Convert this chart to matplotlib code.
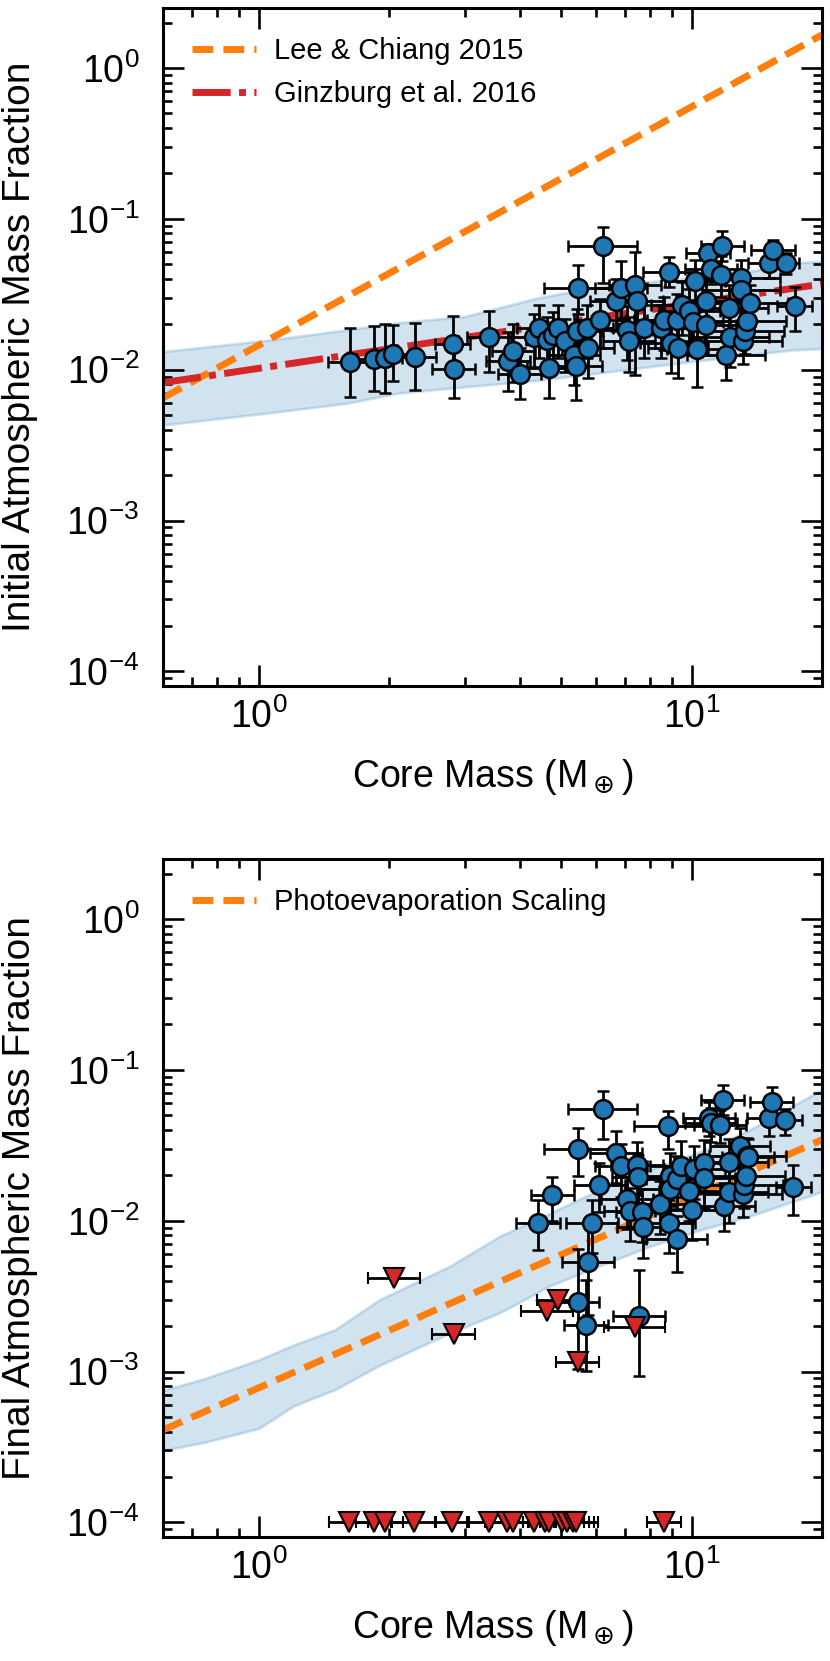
import numpy as np
import matplotlib
matplotlib.use('Agg')
import matplotlib.pyplot as plt
from matplotlib.ticker import LogLocator, NullFormatter

plt.rcParams['font.family'] = ['Liberation Sans', 'DejaVu Sans']
plt.rcParams['mathtext.fontset'] = 'dejavusans'

#
#  top panel: initial atmospheric mass fraction of every planet
#
m_init = [1.62, 1.84, 1.95, 2.04, 2.29, 2.80, 2.82, 3.40, 3.76, 3.87,
          4.00, 4.32, 4.43, 4.64, 4.67, 4.78, 4.92, 5.09, 5.34, 5.40,
          5.44, 5.47, 5.73, 5.77, 6.14, 6.22, 6.67, 6.86, 7.07, 7.15,
          7.41, 7.49, 7.77, 8.49, 8.63, 8.88, 8.94, 9.26, 9.30, 9.48,
          9.88, 10.05, 10.17, 10.29, 10.78, 10.78, 10.90, 11.08, 11.70, 11.77,
          11.98, 12.20, 12.25, 13.0, 13.0, 13.15, 13.3, 13.4, 13.6, 15.1,
          15.4, 16.5, 17.3]
f_init = [0.0112, 0.0118, 0.0119, 0.0128, 0.0122, 0.0149, 0.0101, 0.0165, 0.0114, 0.0132,
          0.0094, 0.0165, 0.0189, 0.0158, 0.0103, 0.0171, 0.0189, 0.0154, 0.0126, 0.0105,
          0.0180, 0.0348, 0.0189, 0.0139, 0.0212, 0.0657, 0.0284, 0.0348, 0.0184, 0.0154,
          0.0366, 0.0284, 0.0189, 0.0189, 0.0215, 0.0442, 0.0150, 0.0215, 0.0139, 0.0270,
          0.0244, 0.0206, 0.0385, 0.0137, 0.0284, 0.0199, 0.0593, 0.0465, 0.0427, 0.0657,
          0.0126, 0.0256, 0.0165, 0.0405, 0.0339, 0.0154, 0.0180, 0.0209, 0.0277, 0.0509,
          0.0618, 0.0509, 0.0266]
# errors in dex
dm_init = [0.05, 0.04, 0.04, 0.04, 0.05, 0.04, 0.05, 0.05, 0.05, 0.05,
           0.05, 0.05, 0.05, 0.05, 0.05, 0.05, 0.06, 0.06, 0.06, 0.06,
           0.06, 0.08, 0.06, 0.06, 0.06, 0.08, 0.06, 0.06, 0.06, 0.06,
           0.06, 0.06, 0.06, 0.07, 0.07, 0.06, 0.07, 0.07, 0.07, 0.07,
           0.07, 0.07, 0.07, 0.07, 0.07, 0.07, 0.05, 0.06, 0.06, 0.05,
           0.09, 0.09, 0.09, 0.09, 0.09, 0.09, 0.09, 0.09, 0.09, 0.05,
           0.05, 0.03, 0.04]
df_init_lo = [0.23, 0.21, 0.23, 0.18, 0.22, 0.18, 0.19, 0.23, 0.20, 0.20,
              0.17, 0.20, 0.20, 0.20, 0.20, 0.20, 0.20, 0.20, 0.20, 0.22,
              0.20, 0.17, 0.20, 0.20, 0.18, 0.24, 0.20, 0.20, 0.20, 0.20,
              0.60, 0.20, 0.20, 0.20, 0.20, 0.10, 0.20, 0.22, 0.20, 0.20,
              0.20, 0.20, 0.20, 0.25, 0.20, 0.20, 0.10, 0.10, 0.15, 0.10,
              0.17, 0.20, 0.20, 0.15, 0.15, 0.15, 0.15, 0.15, 0.15, 0.10,
              0.10, 0.07, 0.17]
df_init_hi = [0.23, 0.22, 0.23, 0.19, 0.22, 0.18, 0.15, 0.17, 0.19, 0.18,
              0.17, 0.15, 0.15, 0.15, 0.15, 0.15, 0.15, 0.15, 0.15, 0.15,
              0.15, 0.15, 0.15, 0.15, 0.14, 0.13, 0.15, 0.18, 0.16, 0.16,
              0.22, 0.15, 0.15, 0.15, 0.15, 0.10, 0.15, 0.17, 0.15, 0.15,
              0.15, 0.15, 0.14, 0.15, 0.15, 0.15, 0.06, 0.10, 0.12, 0.10,
              0.15, 0.15, 0.15, 0.12, 0.12, 0.12, 0.12, 0.12, 0.12, 0.10,
              0.07, 0.07, 0.12]

#
#  bottom panel: final atmospheric mass fraction
#
m_final = [4.41, 4.76, 5.45, 5.47, 5.70, 5.75, 5.89, 6.12, 6.23, 6.68,
           6.86, 7.08, 7.18, 7.49, 7.53, 7.57, 7.66, 7.73, 8.45, 8.83,
           8.86, 8.91, 8.91, 9.23, 9.23, 9.43, 9.87, 10.0, 10.14, 10.7,
           10.7, 10.94, 11.08, 11.62, 11.79, 11.9, 12.22, 12.22, 12.93, 13.16,
           13.2, 13.35, 13.45, 13.5, 15.09, 15.29, 16.43, 17.18]
f_final = [0.00965, 0.0148, 0.00291, 0.0298, 0.00202, 0.0053, 0.00965, 0.0172, 0.0549, 0.028,
           0.0229, 0.0139, 0.0116, 0.0234, 0.0194, 0.00235, 0.0115, 0.00903, 0.013, 0.0425,
           0.00965, 0.0199, 0.0162, 0.00756, 0.0189, 0.0229, 0.0158, 0.0118, 0.022, 0.0243,
           0.0192, 0.0483, 0.0441, 0.043, 0.0632, 0.0126, 0.0246, 0.0154, 0.0314, 0.015,
           0.0172, 0.0199, 0.0267, 0.0263, 0.0477, 0.0614, 0.0467, 0.0166]
dm_final = [0.05, 0.05, 0.05, 0.08, 0.05, 0.06, 0.06, 0.06, 0.08, 0.06,
            0.06, 0.06, 0.06, 0.06, 0.06, 0.06, 0.06, 0.06, 0.06, 0.08,
            0.06, 0.07, 0.07, 0.07, 0.07, 0.07, 0.07, 0.07, 0.07, 0.07,
            0.07, 0.06, 0.06, 0.06, 0.05, 0.07, 0.09, 0.09, 0.07, 0.09,
            0.09, 0.09, 0.09, 0.06, 0.05, 0.05, 0.04, 0.04]
df_final_lo = [0.18, 0.17, 0.45, 0.18, 0.30, 0.35, 0.20, 0.18, 0.20, 0.20,
               0.20, 0.20, 0.20, 0.20, 0.20, 0.40, 0.20, 0.20, 0.20, 0.15,
               0.20, 0.20, 0.20, 0.22, 0.20, 0.20, 0.20, 0.20, 0.20, 0.20,
               0.20, 0.12, 0.12, 0.12, 0.10, 0.17, 0.20, 0.20, 0.15, 0.15,
               0.15, 0.15, 0.15, 0.15, 0.12, 0.10, 0.10, 0.18]
df_final_hi = [0.15, 0.12, 0.35, 0.14, 0.30, 0.25, 0.15, 0.15, 0.12, 0.15,
               0.15, 0.15, 0.15, 0.15, 0.15, 0.30, 0.15, 0.15, 0.15, 0.10,
               0.15, 0.15, 0.15, 0.15, 0.15, 0.17, 0.15, 0.15, 0.15, 0.15,
               0.15, 0.10, 0.10, 0.10, 0.10, 0.15, 0.15, 0.15, 0.12, 0.12,
               0.12, 0.12, 0.12, 0.12, 0.10, 0.10, 0.07, 0.15]

# upper limits (atmosphere mostly stripped)
m_lim = [2.05, 2.82, 4.64, 4.92, 5.45, 7.38]
f_lim = [0.0042, 0.00178, 0.00253, 0.0030, 0.00115, 0.00197]
dm_lim = [0.06, 0.05, 0.06, 0.05, 0.05, 0.07]

# fully stripped planets, sitting on the floor of the plot
m_lost = [1.61, 1.84, 1.96, 2.28, 2.79, 3.40, 3.74, 3.87, 4.32, 4.58,
          4.69, 5.01, 5.15, 5.31, 5.40, 8.63]
f_lost = [1e-4] * len(m_lost)
dm_lost = [0.045, 0.04, 0.04, 0.05, 0.04, 0.05, 0.05, 0.05, 0.05, 0.05,
           0.05, 0.05, 0.05, 0.05, 0.05, 0.04]

#
#  model curves and 1-sigma bands
#
lee_mass = [0.6, 20.0]
lee_f = [0.0065, 1.66]
ginz_mass = [0.6, 20.0]
ginz_f = [0.0082, 0.0370]
photo_mass = [0.6, 20.0]
photo_f = [0.00041, 0.0344]

band1_mass = [0.6, 1.07, 1.6, 2.1, 3.0, 4.4, 6.1, 8.5, 12.5, 17.0, 20.0]
band1_hi = [0.0132, 0.0158, 0.0184, 0.0205, 0.0226, 0.0299, 0.0356, 0.0390, 0.0426, 0.0510, 0.0523]
band1_lo = [0.0043, 0.0052, 0.0060, 0.0070, 0.0077, 0.0085, 0.0095, 0.0107, 0.0122, 0.0135, 0.0138]

band2_mass = [0.6, 0.75, 1.0, 1.2, 1.5, 1.9, 2.76, 3.6, 4.7, 6.1, 8.0, 10.5, 13.6, 20.0]
band2_hi = [0.00075, 0.00090, 0.0012, 0.0015, 0.0019, 0.0030, 0.0050, 0.0079, 0.0112,
            0.0160, 0.0218, 0.0288, 0.0400, 0.0740]
band2_lo = [0.00030, 0.00034, 0.00042, 0.00059, 0.00076, 0.0011, 0.0018, 0.00245, 0.0037,
            0.0050, 0.00675, 0.0087, 0.0107, 0.0156]

tick_family = ['Liberation Sans Narrow', 'Liberation Sans', 'DejaVu Sans']


def dex_err(vals, lo, hi=None):
    v = np.array(vals)
    lo = np.array(lo)
    hi = lo if hi is None else np.array(hi)
    return [v * (1 - 10**-lo), v * (10**hi - 1)]


def style_axes(ax):
    ax.set_xscale('log')
    ax.set_yscale('log')
    ax.set_xlim(0.6, 20)
    ax.set_ylim(8e-5, 2.5)
    ax.yaxis.set_major_locator(LogLocator(base=10, numticks=10))
    ax.yaxis.set_minor_locator(LogLocator(base=10, subs=np.arange(2, 10), numticks=20))
    ax.xaxis.set_minor_formatter(NullFormatter())
    ax.yaxis.set_minor_formatter(NullFormatter())
    ax.tick_params(which='both', direction='in', top=True, right=True,
                   width=1.9, labelsize=27)
    ax.tick_params(which='major', length=15)
    ax.tick_params(which='minor', length=6.5)
    ax.tick_params(axis='x', which='major', pad=9)
    ax.tick_params(axis='y', which='major', pad=17)
    for lab in ax.get_xticklabels() + ax.get_yticklabels():
        lab.set_family(tick_family)
    for sp in ax.spines.values():
        sp.set_linewidth(2.2)
    ax.set_xlabel(r'Core Mass (M$_\oplus$)', fontsize=27)
    ax.xaxis.set_label_coords(0.5, -0.105)


ebkw = dict(ecolor='k', elinewidth=2, capsize=4, capthick=2, zorder=3)

fig = plt.figure(figsize=(8.3, 16.61), dpi=100)
ax1 = fig.add_axes([0.1964, 0.5870, 0.7940, 0.4082])
ax2 = fig.add_axes([0.1964, 0.07465, 0.7940, 0.4082])

# ---- top panel
ax1.fill_between(band1_mass, band1_lo, band1_hi, color='tab:blue', alpha=0.2,
                 lw=2, zorder=1)
ax1.plot(lee_mass, lee_f, color='tab:orange', lw=5, dashes=(3.0, 1.45),
         label='Lee & Chiang 2015', zorder=2)
ax1.plot(ginz_mass, ginz_f, color='tab:red', lw=5, dashes=(5.5, 1.2, 1.0, 1.2),
         label='Ginzburg et al. 2016', zorder=2)
ax1.errorbar(m_init, f_init, xerr=dex_err(m_init, dm_init),
             yerr=dex_err(f_init, df_init_lo, df_init_hi),
             fmt='o', ms=13.5, mfc='tab:blue', mec='k', mew=1.8, **ebkw)
style_axes(ax1)
ax1.set_ylabel('Initial Atmospheric Mass Fraction', fontsize=28)
ax1.yaxis.set_label_coords(-0.19, 0.5)
ax1.legend(loc='upper left', frameon=False, fontsize=21, handlelength=2.2,
           handletextpad=0.6, labelspacing=0.5, borderaxespad=0.6)

# ---- bottom panel
ax2.fill_between(band2_mass, band2_lo, band2_hi, color='tab:blue', alpha=0.2,
                 lw=2, zorder=1)
ax2.plot(photo_mass, photo_f, color='tab:orange', lw=5, dashes=(3.0, 1.45),
         label='Photoevaporation Scaling', zorder=2)
ax2.errorbar(m_final, f_final, xerr=dex_err(m_final, dm_final),
             yerr=dex_err(f_final, df_final_lo, df_final_hi),
             fmt='o', ms=13.5, mfc='tab:blue', mec='k', mew=1.8, **ebkw)
ax2.errorbar(m_lim, f_lim, xerr=dex_err(m_lim, dm_lim),
             fmt='v', ms=14, mfc='tab:red', mec='k', mew=1.5, **ebkw)
ax2.errorbar(m_lost, f_lost, xerr=dex_err(m_lost, dm_lost),
             fmt='v', ms=14, mfc='tab:red', mec='k', mew=1.5, **ebkw)
style_axes(ax2)
ax2.set_ylabel('Final Atmospheric Mass Fraction', fontsize=28)
ax2.yaxis.set_label_coords(-0.19, 0.5)
ax2.legend(loc='upper left', frameon=False, fontsize=21, handlelength=2.2,
           handletextpad=0.6, borderaxespad=0.6)

fig.savefig('out.png', dpi=100)
